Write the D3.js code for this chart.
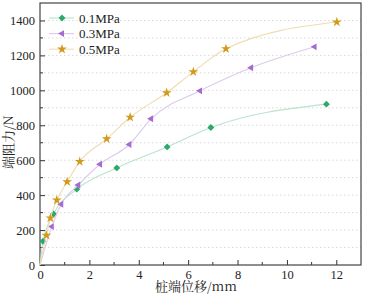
<!DOCTYPE html>
<html>
<head>
<meta charset="utf-8">
<script src="https://cdn.jsdelivr.net/npm/d3@7"></script>
<style>
  body { margin: 0; background: #fff; }
</style>
</head>
<body>
<div id="chart"></div>
<script>
const seriesNames = ["0.1MPa", "0.3MPa", "0.5MPa"];
const x01 = [0, 0.12, 0.55, 1.49, 3.11, 5.15, 6.92, 11.6];
const y01 = [0, 136, 292, 434, 556, 676, 787, 921];
const x03 = [0, 0.48, 0.86, 1.55, 2.43, 3.62, 4.5, 6.48, 8.55, 11.12];
const y03 = [0, 220, 348, 458, 577, 690, 837, 997, 1129, 1249];
const x05 = [0, 0.26, 0.42, 0.68, 1.1, 1.61, 2.7, 3.65, 5.13, 6.21, 7.53, 12.02];
const y05 = [0, 170, 269, 371, 476, 592, 722, 846, 986, 1106, 1238, 1391];
const xTicks = [0, 2, 4, 6, 8, 10, 12];
const yTicks = [0, 200, 400, 600, 800, 1000, 1200, 1400];

const width = 366, height = 295;
const margin = { top: 3, right: 5, bottom: 30, left: 40 };
const innerWidth = width - margin.left - margin.right;
const innerHeight = height - margin.top - margin.bottom;
const serif = "'Times New Roman', 'Liberation Serif', 'DejaVu Serif', serif";
const cjk = "'Noto Serif CJK SC', 'Noto Sans CJK SC', serif";

const lineColors = ["#b9e4cc", "#dccaec", "#efdcb2"];
const markColors = ["#2ea86a", "#a66bd3", "#d19a1c"];

const svg = d3.select("#chart").append("svg")
    .attr("width", width).attr("height", height)
    .style("display", "block");

const g = svg.append("g").attr("transform", `translate(${margin.left},${margin.top})`);

const xScale = d3.scaleLinear().domain([0, 13]).range([0, innerWidth]);
const yScale = d3.scaleLinear().domain([0, 1500]).range([innerHeight, 0]);

// dotted grid every 100
g.append("g").selectAll("line")
    .data(d3.range(100, 1500, 100))
    .join("line")
    .attr("x1", 0).attr("x2", innerWidth)
    .attr("y1", d => yScale(d)).attr("y2", d => yScale(d))
    .attr("stroke", "#dadada").attr("stroke-width", 1)
    .attr("stroke-dasharray", "1.5,2.5");

// axes, ticks inward
const xAxis = g.append("g").attr("transform", `translate(0,${innerHeight})`)
    .call(d3.axisBottom(xScale).tickValues(xTicks).tickFormat(d3.format("d"))
        .tickSize(-5).tickPadding(5));
xAxis.append("g").selectAll("line")
    .data(d3.range(1, 13, 2)).join("line")
    .attr("x1", d => xScale(d)).attr("x2", d => xScale(d))
    .attr("y1", 0).attr("y2", -3).attr("stroke", "#333");

const yAxis = g.append("g")
    .call(d3.axisLeft(yScale).tickValues(yTicks).tickFormat(d3.format("d"))
        .tickSize(-5).tickPadding(5));
yAxis.append("g").selectAll("line")
    .data(d3.range(100, 1500, 200)).join("line")
    .attr("y1", d => yScale(d)).attr("y2", d => yScale(d))
    .attr("x1", 0).attr("x2", 3).attr("stroke", "#333");

[xAxis, yAxis].forEach(a => {
    a.attr("font-family", serif).attr("font-size", 12.5);
    a.select(".domain").remove();
    a.selectAll(".tick line").attr("stroke", "#333");
    a.selectAll("text").attr("fill", "#222");
});

// frame
g.append("rect").attr("width", innerWidth).attr("height", innerHeight)
    .attr("fill", "none").attr("stroke", "#444").attr("stroke-width", 1.2);

const allSeries = [
    { name: seriesNames[0], xs: x01, ys: y01 },
    { name: seriesNames[1], xs: x03, ys: y03 },
    { name: seriesNames[2], xs: x05, ys: y05 }
];

const line = d3.line()
    .x(d => xScale(d[0])).y(d => yScale(d[1]))
    .curve(d3.curveMonotoneX);

const symbols = [
    d3.symbol().type(d3.symbolDiamond2).size(30),
    d3.symbol().type(d3.symbolTriangle2).size(34),
    d3.symbol().type(d3.symbolStar).size(30)
];
const rotations = [0, -90, 0];

allSeries.forEach((s, i) => {
    const pts = s.xs.map((x, j) => [x, s.ys[j]]);
    g.append("path").datum(pts)
        .attr("fill", "none").attr("stroke", lineColors[i]).attr("stroke-width", 1.1)
        .attr("d", line);
    g.append("g").selectAll("path")
        .data(pts.slice(1)).join("path")
        .attr("d", symbols[i])
        .attr("transform", d => `translate(${xScale(d[0])},${yScale(d[1])}) rotate(${rotations[i]})`)
        .attr("fill", markColors[i]);
});

// legend
const legend = svg.append("g").attr("transform", "translate(49,18)");
allSeries.forEach((s, i) => {
    const row = legend.append("g").attr("transform", `translate(0,${i * 15.6})`);
    row.append("line").attr("x1", 0).attr("x2", 25).attr("y1", 0).attr("y2", 0)
        .attr("stroke", lineColors[i]).attr("stroke-width", 1.1);
    row.append("path").attr("d", symbols[i])
        .attr("transform", `translate(13,0) rotate(${rotations[i]})`)
        .attr("fill", markColors[i]);
    row.append("text").attr("x", 30).attr("y", 4.5)
        .attr("font-family", serif).attr("font-size", 13).attr("fill", "#222")
        .text(s.name);
});

// axis titles
svg.append("text")
    .attr("x", 196).attr("y", 291)
    .attr("text-anchor", "middle")
    .attr("font-size", 13).attr("font-family", cjk).attr("fill", "#222")
    .text("桩端位移/mm");

svg.append("text")
    .attr("transform", "translate(13,142) rotate(-90)")
    .attr("text-anchor", "middle")
    .attr("font-size", 13).attr("font-family", cjk).attr("fill", "#222")
    .text("端阻力/N");
</script>
</body>
</html>
